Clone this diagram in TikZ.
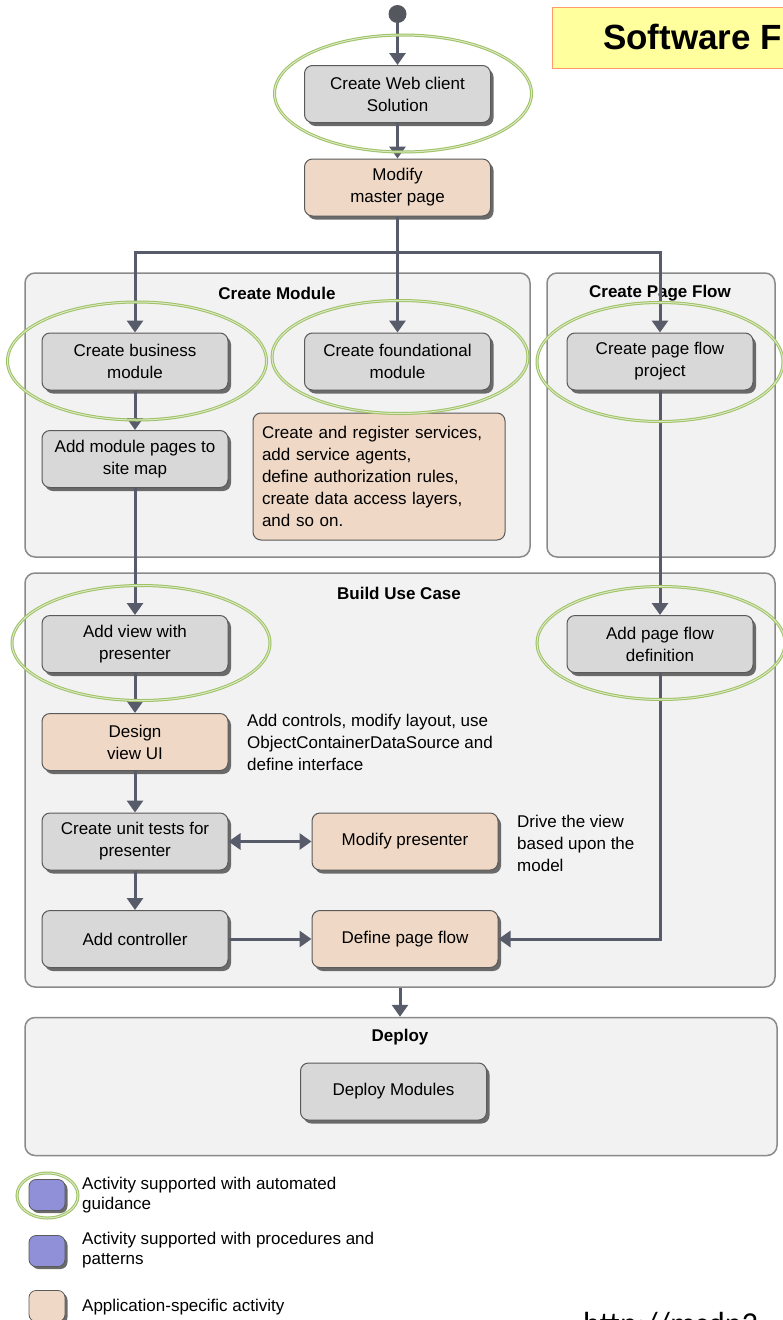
\documentclass[tikz,border=0pt]{standalone}
\usepackage{fontspec}
\setmainfont{Liberation Sans}
\newfontfamily\urlfont{Carlito}
\usetikzlibrary{arrows.meta,shapes.geometric,shadows}

\definecolor{actgray}{HTML}{D8D8D8}
\definecolor{actpeach}{HTML}{EFD8C6}
\definecolor{actedge}{HTML}{5A5A5A}
\definecolor{shade}{HTML}{6A6A6A}
\definecolor{panelfill}{HTML}{F2F2F2}
\definecolor{paneledge}{HTML}{8A8A8A}
\definecolor{flowcol}{HTML}{585C6A}
\definecolor{ringgreen}{HTML}{9EC264}
\definecolor{ringpale}{HTML}{DCE9C6}
\definecolor{legendpurple}{HTML}{8F90D8}
\definecolor{titlefill}{HTML}{FFFF9E}
\definecolor{titleedge}{HTML}{FF9A6A}
\definecolor{dotcol}{HTML}{55575F}

\begin{document}
\begin{tikzpicture}[x=1pt,y=-1pt,
  font=\fontsize{17}{22}\selectfont,
  panel/.style={draw=paneledge, line width=1.5pt, fill=panelfill,
    rounded corners=10pt, inner sep=0pt},
  ptitle/.style={font=\fontsize{17}{22}\selectfont\bfseries, inner sep=1pt},
  act/.style={rectangle, rounded corners=8pt, draw=actedge, line width=1pt,
    fill=actgray, minimum width=186pt, minimum height=57pt, align=center,
    inner sep=2pt,
    drop shadow={shadow xshift=3pt, shadow yshift=-3.5pt, fill=shade, opacity=1}},
  peach/.style={act, fill=actpeach},
  notebox/.style={rectangle, rounded corners=8pt, draw=actedge, line width=1pt,
    fill=actpeach, minimum width=252pt, minimum height=127pt, text width=234pt,
    align=left, inner sep=9pt},
  plain/.style={anchor=west, inner sep=0pt, align=left},
  ring/.style={ellipse, draw=ringgreen, line width=1pt, double=ringpale,
    double distance=1pt, inner sep=0pt},
  flow/.style={draw=flowcol, line width=3pt,
    -{Triangle[width=16pt,length=12pt]}},
  flowboth/.style={draw=flowcol, line width=3pt,
    {Triangle[width=16pt,length=12pt]}-{Triangle[width=16pt,length=12pt]}},
  wire/.style={draw=flowcol, line width=3pt},
  legbox/.style={rectangle, rounded corners=7pt, draw=actedge, line width=0.8pt,
    fill=legendpurple, minimum width=36pt, minimum height=31pt, inner sep=0pt,
    drop shadow={shadow xshift=2.5pt, shadow yshift=-2.5pt, fill=shade, opacity=1}},
  legtext/.style={anchor=west, inner sep=0pt, align=left,
    font=\fontsize{17}{20}\selectfont}]

\clip (0,0) rectangle (783,1320);
\fill[white] (0,0) rectangle (783,1320);

% heading
\node[draw=titleedge, line width=1.2pt, fill=titlefill, minimum width=300pt,
  minimum height=61pt, anchor=north west, inner sep=0pt] (titlebox) at (552,7) {};
\node[anchor=base west, inner sep=0pt,
  font=\fontsize{35}{40}\selectfont\bfseries] (titletext) at (603,49) {Software F};

% swimlane panels
\node[panel, minimum width=505pt, minimum height=284pt] (modpanel) at (277.5,415) {};
\node[panel, minimum width=228pt, minimum height=284pt] (pfpanel) at (661,415) {};
\node[panel, minimum width=750pt, minimum height=414pt] (ucpanel) at (400,780) {};
\node[panel, minimum width=752pt, minimum height=138pt] (deppanel) at (401,1086.5) {};

\node[ptitle] (modtitle) at (277,293) {Create Module};
\node[ptitle] (pftitle) at (660,293) {Create Page Flow};
\node[ptitle] (uctitle) at (399,593) {Build Use Case};
\node[ptitle] (deptitle) at (400,1037) {Deploy};

% activities
\node[circle, fill=dotcol, minimum size=18pt, inner sep=0pt] (start) at (397.5,14) {};
\node[act] (web) at (397.5,94) {Create Web client\\Solution};
\node[peach] (master) at (397.5,187.5) {Modify\\master page};
\node[act] (biz) at (135,361.5) {Create business\\module};
\node[act] (found) at (397.5,361.5) {Create foundational\\module};
\node[act] (pfp) at (660,361.5) {Create page flow\\project};
\node[act] (sitemap) at (135,459) {Add module pages to\\site map};
\node[notebox] (svc) at (379,476.5) {Create and register services,\\add service agents,\\define authorization rules,\\create data access layers,\\and so on.};
\node[act] (view) at (135,644) {Add view with\\presenter};
\node[act] (pfd) at (660,644) {Add page flow\\definition};
\node[peach] (design) at (135,742) {Design\\view UI};
\node[plain] (designnote) at (247,742) {Add controls, modify layout, use\\ObjectContainerDataSource and\\define interface};
\node[act] (tests) at (135,841.5) {Create unit tests for\\presenter};
\node[peach] (modp) at (405,841.5) {Modify presenter};
\node[plain] (modpnote) at (517,843) {Drive the view\\based upon the\\model};
\node[act] (ctrl) at (135,939) {Add controller};
\node[peach] (dpf) at (405,939) {Define page flow};
\node[act] (deploy) at (393.5,1091.5) {Deploy Modules};

% control flow
\coordinate (split) at (397.5,252);
\draw[flow] (start) -- (web);
\draw[flow] (web) -- (master);
\draw[wire] (master) -- (split);
\draw[flow] (split) -| (biz.north);
\draw[flow] (split) -- (found.north);
\draw[flow] (split) -| (pfp.north);
\draw[flow] (biz) -- (sitemap);
\draw[flow] (sitemap) -- (view);
\draw[flow] (pfp) -- (pfd);
\draw[flow] (view) -- (design);
\draw[flow] (design) -- (tests);
\draw[flowboth] (tests) -- (modp);
\draw[flow] (tests) -- (ctrl);
\draw[flow] (ctrl) -- (dpf);
\draw[flow] (pfd.south) |- (dpf.east);
\draw[flow] (ucpanel.south) -- (ucpanel.south |- deppanel.north);

% automated-guidance rings
\node[ring, minimum width=257pt, minimum height=117pt] (webring) at (403,93.5) {};
\node[ring, minimum width=259pt, minimum height=118pt] (bizring) at (137,361) {};
\node[ring, minimum width=256pt, minimum height=113pt] (foundring) at (400,357) {};
\node[ring, minimum width=246pt, minimum height=119pt] (pfpring) at (660,362) {};
\node[ring, minimum width=258pt, minimum height=115pt] (viewring) at (141,643) {};
\node[ring, minimum width=248pt, minimum height=113pt] (pfdring) at (661,643) {};

% legend
\node[legbox] (lg1) at (47,1195) {};
\node[ring, minimum width=61pt, minimum height=45pt] (lg1ring) at (47.5,1195.5) {};
\node[legtext] (lg1text) at (82,1195) {Activity supported with automated\\guidance};
\node[legbox] (lg2) at (47,1251) {};
\node[legtext] (lg2text) at (82,1250) {Activity supported with procedures and\\patterns};
\node[legbox, fill=actpeach] (lg3) at (47,1306) {};
\node[legtext] (lg3text) at (82,1307) {Application-specific activity};

% source link, running off the lower edge
\node[anchor=base west, inner sep=0pt, font=\urlfont\fontsize{32}{36}\selectfont]
  (url) at (583,1334) {http://msdn2.};
\end{tikzpicture}
\end{document}
